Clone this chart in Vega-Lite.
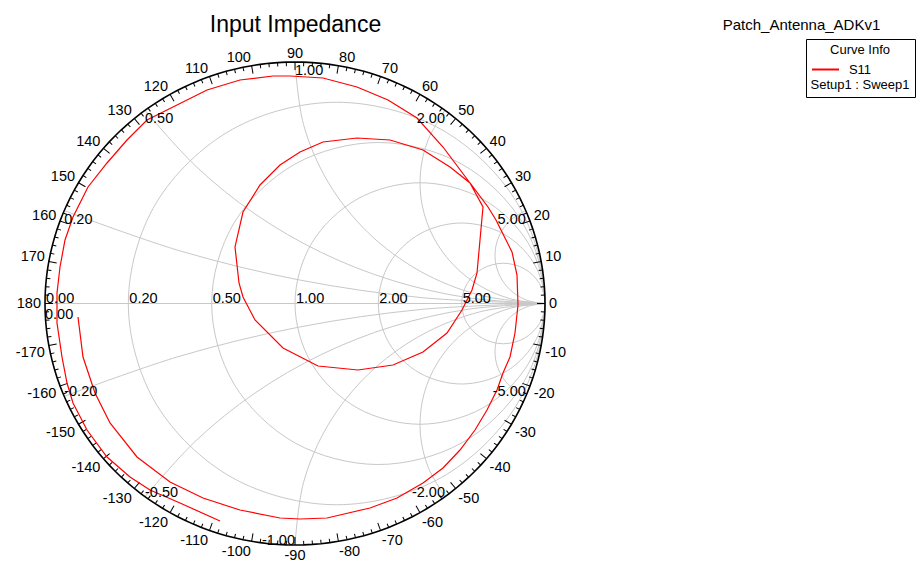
{
"$schema":"https://vega.github.io/schema/vega-lite/v6.json",
"width":919,"height":562,"autosize":{"type":"none"},"padding":0,"background":"#ffffff",
"config":{"view":{"stroke":null},"font":"Liberation Sans"},
"datasets":{
"ring":[
{"a":0,"u":1,"v":0},{"a":2,"u":0.9994,"v":0.0349},{"a":4,"u":0.9976,"v":0.0698},{"a":6,"u":0.9945,"v":0.1045},{"a":8,"u":0.9903,"v":0.1392},{"a":10,"u":0.9848,"v":0.1736},{"a":12,"u":0.9781,"v":0.2079},{"a":14,"u":0.9703,"v":0.2419},{"a":16,"u":0.9613,"v":0.2756},{"a":18,"u":0.9511,"v":0.309},{"a":20,"u":0.9397,"v":0.342},{"a":22,"u":0.9272,"v":0.3746},{"a":24,"u":0.9135,"v":0.4067},{"a":26,"u":0.8988,"v":0.4384},{"a":28,"u":0.8829,"v":0.4695},{"a":30,"u":0.866,"v":0.5},{"a":32,"u":0.848,"v":0.5299},{"a":34,"u":0.829,"v":0.5592},{"a":36,"u":0.809,"v":0.5878},{"a":38,"u":0.788,"v":0.6157},{"a":40,"u":0.766,"v":0.6428},{"a":42,"u":0.7431,"v":0.6691},{"a":44,"u":0.7193,"v":0.6947},{"a":46,"u":0.6947,"v":0.7193},{"a":48,"u":0.6691,"v":0.7431},{"a":50,"u":0.6428,"v":0.766},{"a":52,"u":0.6157,"v":0.788},{"a":54,"u":0.5878,"v":0.809},{"a":56,"u":0.5592,"v":0.829},{"a":58,"u":0.5299,"v":0.848},{"a":60,"u":0.5,"v":0.866},{"a":62,"u":0.4695,"v":0.8829},{"a":64,"u":0.4384,"v":0.8988},{"a":66,"u":0.4067,"v":0.9135},{"a":68,"u":0.3746,"v":0.9272},{"a":70,"u":0.342,"v":0.9397},{"a":72,"u":0.309,"v":0.9511},{"a":74,"u":0.2756,"v":0.9613},{"a":76,"u":0.2419,"v":0.9703},{"a":78,"u":0.2079,"v":0.9781},{"a":80,"u":0.1736,"v":0.9848},{"a":82,"u":0.1392,"v":0.9903},{"a":84,"u":0.1045,"v":0.9945},{"a":86,"u":0.0698,"v":0.9976},{"a":88,"u":0.0349,"v":0.9994},{"a":90,"u":0,"v":1},
{"a":92,"u":-0.0349,"v":0.9994},{"a":94,"u":-0.0698,"v":0.9976},{"a":96,"u":-0.1045,"v":0.9945},{"a":98,"u":-0.1392,"v":0.9903},{"a":100,"u":-0.1736,"v":0.9848},{"a":102,"u":-0.2079,"v":0.9781},{"a":104,"u":-0.2419,"v":0.9703},{"a":106,"u":-0.2756,"v":0.9613},{"a":108,"u":-0.309,"v":0.9511},{"a":110,"u":-0.342,"v":0.9397},{"a":112,"u":-0.3746,"v":0.9272},{"a":114,"u":-0.4067,"v":0.9135},{"a":116,"u":-0.4384,"v":0.8988},{"a":118,"u":-0.4695,"v":0.8829},{"a":120,"u":-0.5,"v":0.866},{"a":122,"u":-0.5299,"v":0.848},{"a":124,"u":-0.5592,"v":0.829},{"a":126,"u":-0.5878,"v":0.809},{"a":128,"u":-0.6157,"v":0.788},{"a":130,"u":-0.6428,"v":0.766},{"a":132,"u":-0.6691,"v":0.7431},{"a":134,"u":-0.6947,"v":0.7193},{"a":136,"u":-0.7193,"v":0.6947},{"a":138,"u":-0.7431,"v":0.6691},{"a":140,"u":-0.766,"v":0.6428},{"a":142,"u":-0.788,"v":0.6157},{"a":144,"u":-0.809,"v":0.5878},{"a":146,"u":-0.829,"v":0.5592},{"a":148,"u":-0.848,"v":0.5299},{"a":150,"u":-0.866,"v":0.5},{"a":152,"u":-0.8829,"v":0.4695},{"a":154,"u":-0.8988,"v":0.4384},{"a":156,"u":-0.9135,"v":0.4067},{"a":158,"u":-0.9272,"v":0.3746},{"a":160,"u":-0.9397,"v":0.342},{"a":162,"u":-0.9511,"v":0.309},{"a":164,"u":-0.9613,"v":0.2756},{"a":166,"u":-0.9703,"v":0.2419},{"a":168,"u":-0.9781,"v":0.2079},{"a":170,"u":-0.9848,"v":0.1736},{"a":172,"u":-0.9903,"v":0.1392},{"a":174,"u":-0.9945,"v":0.1045},{"a":176,"u":-0.9976,"v":0.0698},{"a":178,"u":-0.9994,"v":0.0349},{"a":180,"u":-1,"v":0},
{"a":-2,"u":0.9994,"v":-0.0349},{"a":-4,"u":0.9976,"v":-0.0698},{"a":-6,"u":0.9945,"v":-0.1045},{"a":-8,"u":0.9903,"v":-0.1392},{"a":-10,"u":0.9848,"v":-0.1736},{"a":-12,"u":0.9781,"v":-0.2079},{"a":-14,"u":0.9703,"v":-0.2419},{"a":-16,"u":0.9613,"v":-0.2756},{"a":-18,"u":0.9511,"v":-0.309},{"a":-20,"u":0.9397,"v":-0.342},{"a":-22,"u":0.9272,"v":-0.3746},{"a":-24,"u":0.9135,"v":-0.4067},{"a":-26,"u":0.8988,"v":-0.4384},{"a":-28,"u":0.8829,"v":-0.4695},{"a":-30,"u":0.866,"v":-0.5},{"a":-32,"u":0.848,"v":-0.5299},{"a":-34,"u":0.829,"v":-0.5592},{"a":-36,"u":0.809,"v":-0.5878},{"a":-38,"u":0.788,"v":-0.6157},{"a":-40,"u":0.766,"v":-0.6428},{"a":-42,"u":0.7431,"v":-0.6691},{"a":-44,"u":0.7193,"v":-0.6947},{"a":-46,"u":0.6947,"v":-0.7193},{"a":-48,"u":0.6691,"v":-0.7431},{"a":-50,"u":0.6428,"v":-0.766},{"a":-52,"u":0.6157,"v":-0.788},{"a":-54,"u":0.5878,"v":-0.809},{"a":-56,"u":0.5592,"v":-0.829},{"a":-58,"u":0.5299,"v":-0.848},{"a":-60,"u":0.5,"v":-0.866},{"a":-62,"u":0.4695,"v":-0.8829},{"a":-64,"u":0.4384,"v":-0.8988},{"a":-66,"u":0.4067,"v":-0.9135},{"a":-68,"u":0.3746,"v":-0.9272},{"a":-70,"u":0.342,"v":-0.9397},{"a":-72,"u":0.309,"v":-0.9511},{"a":-74,"u":0.2756,"v":-0.9613},{"a":-76,"u":0.2419,"v":-0.9703},{"a":-78,"u":0.2079,"v":-0.9781},{"a":-80,"u":0.1736,"v":-0.9848},{"a":-82,"u":0.1392,"v":-0.9903},{"a":-84,"u":0.1045,"v":-0.9945},{"a":-86,"u":0.0698,"v":-0.9976},{"a":-88,"u":0.0349,"v":-0.9994},{"a":-90,"u":0,"v":-1},
{"a":-92,"u":-0.0349,"v":-0.9994},{"a":-94,"u":-0.0698,"v":-0.9976},{"a":-96,"u":-0.1045,"v":-0.9945},{"a":-98,"u":-0.1392,"v":-0.9903},{"a":-100,"u":-0.1736,"v":-0.9848},{"a":-102,"u":-0.2079,"v":-0.9781},{"a":-104,"u":-0.2419,"v":-0.9703},{"a":-106,"u":-0.2756,"v":-0.9613},{"a":-108,"u":-0.309,"v":-0.9511},{"a":-110,"u":-0.342,"v":-0.9397},{"a":-112,"u":-0.3746,"v":-0.9272},{"a":-114,"u":-0.4067,"v":-0.9135},{"a":-116,"u":-0.4384,"v":-0.8988},{"a":-118,"u":-0.4695,"v":-0.8829},{"a":-120,"u":-0.5,"v":-0.866},{"a":-122,"u":-0.5299,"v":-0.848},{"a":-124,"u":-0.5592,"v":-0.829},{"a":-126,"u":-0.5878,"v":-0.809},{"a":-128,"u":-0.6157,"v":-0.788},{"a":-130,"u":-0.6428,"v":-0.766},{"a":-132,"u":-0.6691,"v":-0.7431},{"a":-134,"u":-0.6947,"v":-0.7193},{"a":-136,"u":-0.7193,"v":-0.6947},{"a":-138,"u":-0.7431,"v":-0.6691},{"a":-140,"u":-0.766,"v":-0.6428},{"a":-142,"u":-0.788,"v":-0.6157},{"a":-144,"u":-0.809,"v":-0.5878},{"a":-146,"u":-0.829,"v":-0.5592},{"a":-148,"u":-0.848,"v":-0.5299},{"a":-150,"u":-0.866,"v":-0.5},{"a":-152,"u":-0.8829,"v":-0.4695},{"a":-154,"u":-0.8988,"v":-0.4384},{"a":-156,"u":-0.9135,"v":-0.4067},{"a":-158,"u":-0.9272,"v":-0.3746},{"a":-160,"u":-0.9397,"v":-0.342},{"a":-162,"u":-0.9511,"v":-0.309},{"a":-164,"u":-0.9613,"v":-0.2756},{"a":-166,"u":-0.9703,"v":-0.2419},{"a":-168,"u":-0.9781,"v":-0.2079},{"a":-170,"u":-0.9848,"v":-0.1736},{"a":-172,"u":-0.9903,"v":-0.1392},{"a":-174,"u":-0.9945,"v":-0.1045},{"a":-176,"u":-0.9976,"v":-0.0698},{"a":-178,"u":-0.9994,"v":-0.0349}
],
"circ":[
{"g":"r0.2","i":0,"u":1,"v":0},{"g":"r0.2","i":1,"u":0.88836,"v":0.41667},{"g":"r0.2","i":2,"u":0.58333,"v":0.72169},{"g":"r0.2","i":3,"u":0.16667,"v":0.83333},{"g":"r0.2","i":4,"u":-0.25,"v":0.72169},{"g":"r0.2","i":5,"u":-0.55502,"v":0.41667},{"g":"r0.2","i":6,"u":-0.66667,"v":0},{"g":"r0.2","i":7,"u":-0.55502,"v":-0.41667},{"g":"r0.2","i":8,"u":-0.25,"v":-0.72169},{"g":"r0.2","i":9,"u":0.16667,"v":-0.83333},{"g":"r0.2","i":10,"u":0.58333,"v":-0.72169},{"g":"r0.2","i":11,"u":0.88836,"v":-0.41667},
{"g":"r0.5","i":0,"u":1,"v":0},{"g":"r0.5","i":1,"u":0.91068,"v":0.33333},{"g":"r0.5","i":2,"u":0.66667,"v":0.57735},{"g":"r0.5","i":3,"u":0.33333,"v":0.66667},{"g":"r0.5","i":4,"u":0,"v":0.57735},{"g":"r0.5","i":5,"u":-0.24402,"v":0.33333},{"g":"r0.5","i":6,"u":-0.33333,"v":0},{"g":"r0.5","i":7,"u":-0.24402,"v":-0.33333},{"g":"r0.5","i":8,"u":0,"v":-0.57735},{"g":"r0.5","i":9,"u":0.33333,"v":-0.66667},{"g":"r0.5","i":10,"u":0.66667,"v":-0.57735},{"g":"r0.5","i":11,"u":0.91068,"v":-0.33333},
{"g":"r1","i":0,"u":1,"v":0},{"g":"r1","i":1,"u":0.93301,"v":0.25},{"g":"r1","i":2,"u":0.75,"v":0.43301},{"g":"r1","i":3,"u":0.5,"v":0.5},{"g":"r1","i":4,"u":0.25,"v":0.43301},{"g":"r1","i":5,"u":0.06699,"v":0.25},{"g":"r1","i":6,"u":0,"v":0},{"g":"r1","i":7,"u":0.06699,"v":-0.25},{"g":"r1","i":8,"u":0.25,"v":-0.43301},{"g":"r1","i":9,"u":0.5,"v":-0.5},{"g":"r1","i":10,"u":0.75,"v":-0.43301},{"g":"r1","i":11,"u":0.93301,"v":-0.25},
{"g":"r2","i":0,"u":1,"v":0},{"g":"r2","i":1,"u":0.95535,"v":0.16667},{"g":"r2","i":2,"u":0.83333,"v":0.28868},{"g":"r2","i":3,"u":0.66667,"v":0.33333},{"g":"r2","i":4,"u":0.5,"v":0.28868},{"g":"r2","i":5,"u":0.37799,"v":0.16667},{"g":"r2","i":6,"u":0.33333,"v":0},{"g":"r2","i":7,"u":0.37799,"v":-0.16667},{"g":"r2","i":8,"u":0.5,"v":-0.28868},{"g":"r2","i":9,"u":0.66667,"v":-0.33333},{"g":"r2","i":10,"u":0.83333,"v":-0.28868},{"g":"r2","i":11,"u":0.95535,"v":-0.16667},
{"g":"r5","i":0,"u":1,"v":0},{"g":"r5","i":1,"u":0.97767,"v":0.08333},{"g":"r5","i":2,"u":0.91667,"v":0.14434},{"g":"r5","i":3,"u":0.83333,"v":0.16667},{"g":"r5","i":4,"u":0.75,"v":0.14434},{"g":"r5","i":5,"u":0.68899,"v":0.08333},{"g":"r5","i":6,"u":0.66667,"v":0},{"g":"r5","i":7,"u":0.68899,"v":-0.08333},{"g":"r5","i":8,"u":0.75,"v":-0.14434},{"g":"r5","i":9,"u":0.83333,"v":-0.16667},{"g":"r5","i":10,"u":0.91667,"v":-0.14434},{"g":"r5","i":11,"u":0.97767,"v":-0.08333}
],
"arcs":[
{"g":"x0","i":0,"u":-1,"v":0},{"g":"x0","i":1,"u":1,"v":0},
{"g":"xp0.2","i":0,"u":1,"v":0},{"g":"xp0.2","i":1,"u":0.50731,"v":0.02433},{"g":"xp0.2","i":2,"u":0.0194,"v":0.0971},{"g":"xp0.2","i":3,"u":-0.45895,"v":0.2176},{"g":"xp0.2","i":4,"u":-0.92308,"v":0.38462},
{"g":"xn0.2","i":0,"u":1,"v":0},{"g":"xn0.2","i":1,"u":0.50731,"v":-0.02433},{"g":"xn0.2","i":2,"u":0.0194,"v":-0.0971},{"g":"xn0.2","i":3,"u":-0.45895,"v":-0.2176},{"g":"xn0.2","i":4,"u":-0.92308,"v":-0.38462},
{"g":"xp0.5","i":0,"u":1,"v":0},{"g":"xp0.5","i":1,"u":0.69214,"v":0.02384},{"g":"xp0.5","i":2,"u":0.39162,"v":0.09478},{"g":"xp0.5","i":3,"u":0.10557,"v":0.21115},{"g":"xp0.5","i":4,"u":-0.1591,"v":0.37012},{"g":"xp0.5","i":5,"u":-0.39618,"v":0.56796},{"g":"xp0.5","i":6,"u":-0.6,"v":0.8},
{"g":"xn0.5","i":0,"u":1,"v":0},{"g":"xn0.5","i":1,"u":0.69214,"v":-0.02384},{"g":"xn0.5","i":2,"u":0.39162,"v":-0.09478},{"g":"xn0.5","i":3,"u":0.10557,"v":-0.21115},{"g":"xn0.5","i":4,"u":-0.1591,"v":-0.37012},{"g":"xn0.5","i":5,"u":-0.39618,"v":-0.56796},{"g":"xn0.5","i":6,"u":-0.6,"v":-0.8},
{"g":"xp1","i":0,"u":1,"v":0},{"g":"xp1","i":1,"u":0.74118,"v":0.03407},{"g":"xp1","i":2,"u":0.5,"v":0.13397},{"g":"xp1","i":3,"u":0.29289,"v":0.29289},{"g":"xp1","i":4,"u":0.13397,"v":0.5},{"g":"xp1","i":5,"u":0.03407,"v":0.74118},{"g":"xp1","i":6,"u":0,"v":1},
{"g":"xn1","i":0,"u":1,"v":0},{"g":"xn1","i":1,"u":0.74118,"v":-0.03407},{"g":"xn1","i":2,"u":0.5,"v":-0.13397},{"g":"xn1","i":3,"u":0.29289,"v":-0.29289},{"g":"xn1","i":4,"u":0.13397,"v":-0.5},{"g":"xn1","i":5,"u":0.03407,"v":-0.74118},{"g":"xn1","i":6,"u":0,"v":-1},
{"g":"xp2","i":0,"u":1,"v":0},{"g":"xp2","i":1,"u":0.86337,"v":0.01903},{"g":"xp2","i":2,"u":0.73713,"v":0.07468},{"g":"xp2","i":3,"u":0.6309,"v":0.1627},{"g":"xp2","i":4,"u":0.55279,"v":0.27639},{"g":"xp2","i":5,"u":0.5087,"v":0.40712},{"g":"xp2","i":6,"u":0.50201,"v":0.54494},{"g":"xp2","i":7,"u":0.53325,"v":0.67931},{"g":"xp2","i":8,"u":0.6,"v":0.8},
{"g":"xn2","i":0,"u":1,"v":0},{"g":"xn2","i":1,"u":0.86337,"v":-0.01903},{"g":"xn2","i":2,"u":0.73713,"v":-0.07468},{"g":"xn2","i":3,"u":0.6309,"v":-0.1627},{"g":"xn2","i":4,"u":0.55279,"v":-0.27639},{"g":"xn2","i":5,"u":0.5087,"v":-0.40712},{"g":"xn2","i":6,"u":0.50201,"v":-0.54494},{"g":"xn2","i":7,"u":0.53325,"v":-0.67931},{"g":"xn2","i":8,"u":0.6,"v":-0.8},
{"g":"xp5","i":0,"u":1,"v":0},{"g":"xp5","i":1,"u":0.93267,"v":0.01167},{"g":"xp5","i":2,"u":0.8732,"v":0.04533},{"g":"xp5","i":3,"u":0.82853,"v":0.09704},{"g":"xp5","i":4,"u":0.80388,"v":0.16078},{"g":"xp5","i":5,"u":0.80213,"v":0.22909},{"g":"xp5","i":6,"u":0.82346,"v":0.29401},{"g":"xp5","i":7,"u":0.86541,"v":0.34795},{"g":"xp5","i":8,"u":0.92308,"v":0.38462},
{"g":"xn5","i":0,"u":1,"v":0},{"g":"xn5","i":1,"u":0.93267,"v":-0.01167},{"g":"xn5","i":2,"u":0.8732,"v":-0.04533},{"g":"xn5","i":3,"u":0.82853,"v":-0.09704},{"g":"xn5","i":4,"u":0.80388,"v":-0.16078},{"g":"xn5","i":5,"u":0.80213,"v":-0.22909},{"g":"xn5","i":6,"u":0.82346,"v":-0.29401},{"g":"xn5","i":7,"u":0.86541,"v":-0.34795},{"g":"xn5","i":8,"u":0.92308,"v":-0.38462}
],
"s11":[
{"trace":"S11","i":1,"u":-0.868,"v":-0.0559},{"trace":"S11","i":2,"u":-0.848,"v":-0.2215},{"trace":"S11","i":3,"u":-0.8,"v":-0.3706},{"trace":"S11","i":4,"u":-0.74,"v":-0.4948},{"trace":"S11","i":5,"u":-0.632,"v":-0.6356},{"trace":"S11","i":6,"u":-0.5,"v":-0.7391},{"trace":"S11","i":7,"u":-0.368,"v":-0.8054},{"trace":"S11","i":8,"u":-0.22,"v":-0.8551},{"trace":"S11","i":9,"u":-0.06,"v":-0.8882},{"trace":"S11","i":10,"u":0.02,"v":-0.8923},
{"trace":"S11","i":11,"u":0.128,"v":-0.8882},{"trace":"S11","i":12,"u":0.3,"v":-0.8468},{"trace":"S11","i":13,"u":0.408,"v":-0.8054},{"trace":"S11","i":14,"u":0.512,"v":-0.7433},{"trace":"S11","i":15,"u":0.592,"v":-0.6812},{"trace":"S11","i":16,"u":0.66,"v":-0.6066},{"trace":"S11","i":17,"u":0.72,"v":-0.5238},{"trace":"S11","i":18,"u":0.768,"v":-0.441},{"trace":"S11","i":19,"u":0.808,"v":-0.3582},{"trace":"S11","i":20,"u":0.832,"v":-0.2878},
{"trace":"S11","i":21,"u":0.86,"v":-0.2215},{"trace":"S11","i":22,"u":0.88,"v":-0.1222},{"trace":"S11","i":23,"u":0.892,"v":-0.0062},{"trace":"S11","i":24,"u":0.888,"v":0.118},{"trace":"S11","i":25,"u":0.868,"v":0.2133},{"trace":"S11","i":26,"u":0.84,"v":0.2712},{"trace":"S11","i":27,"u":0.804,"v":0.3458},{"trace":"S11","i":28,"u":0.772,"v":0.3996},{"trace":"S11","i":29,"u":0.7,"v":0.499},{"trace":"S11","i":30,"u":0.62,"v":0.5652},
{"trace":"S11","i":31,"u":0.512,"v":0.6356},{"trace":"S11","i":32,"u":0.38,"v":0.677},{"trace":"S11","i":33,"u":0.248,"v":0.6853},{"trace":"S11","i":34,"u":0.112,"v":0.6687},{"trace":"S11","i":35,"u":0.02,"v":0.6273},{"trace":"S11","i":36,"u":-0.06,"v":0.5735},{"trace":"S11","i":37,"u":-0.14,"v":0.4907},{"trace":"S11","i":38,"u":-0.208,"v":0.3789},{"trace":"S11","i":39,"u":-0.24,"v":0.234},{"trace":"S11","i":40,"u":-0.224,"v":0.0849},
{"trace":"S11","i":41,"u":-0.208,"v":0.0269},{"trace":"S11","i":42,"u":-0.16,"v":-0.0683},{"trace":"S11","i":43,"u":-0.048,"v":-0.1843},{"trace":"S11","i":44,"u":0.092,"v":-0.2588},{"trace":"S11","i":45,"u":0.252,"v":-0.2754},{"trace":"S11","i":46,"u":0.392,"v":-0.2547},{"trace":"S11","i":47,"u":0.512,"v":-0.2008},{"trace":"S11","i":48,"u":0.608,"v":-0.1222},{"trace":"S11","i":49,"u":0.668,"v":-0.0269},{"trace":"S11","i":50,"u":0.708,"v":0.0559},
{"trace":"S11","i":51,"u":0.728,"v":0.1263},{"trace":"S11","i":52,"u":0.74,"v":0.2629},{"trace":"S11","i":53,"u":0.752,"v":0.3996},{"trace":"S11","i":54,"u":0.7,"v":0.499},{"trace":"S11","i":55,"u":0.592,"v":0.648},{"trace":"S11","i":56,"u":0.488,"v":0.7681},{"trace":"S11","i":57,"u":0.372,"v":0.8427},{"trace":"S11","i":58,"u":0.248,"v":0.8965},{"trace":"S11","i":59,"u":0.112,"v":0.9337},{"trace":"S11","i":60,"u":-0.02,"v":0.942},
{"trace":"S11","i":61,"u":-0.088,"v":0.942},{"trace":"S11","i":62,"u":-0.22,"v":0.9255},{"trace":"S11","i":63,"u":-0.352,"v":0.8841},{"trace":"S11","i":64,"u":-0.488,"v":0.8137},{"trace":"S11","i":65,"u":-0.592,"v":0.7598},{"trace":"S11","i":66,"u":-0.672,"v":0.677},{"trace":"S11","i":67,"u":-0.752,"v":0.5818},{"trace":"S11","i":68,"u":-0.828,"v":0.4824},{"trace":"S11","i":69,"u":-0.888,"v":0.3582},{"trace":"S11","i":70,"u":-0.92,"v":0.2629},
{"trace":"S11","i":71,"u":-0.94,"v":0.1511},{"trace":"S11","i":72,"u":-0.952,"v":0.0435},{"trace":"S11","i":73,"u":-0.952,"v":-0.0807},{"trace":"S11","i":74,"u":-0.932,"v":-0.2215},{"trace":"S11","i":75,"u":-0.912,"v":-0.3292},{"trace":"S11","i":76,"u":-0.888,"v":-0.412},{"trace":"S11","i":77,"u":-0.832,"v":-0.5238},{"trace":"S11","i":78,"u":-0.752,"v":-0.6356},{"trace":"S11","i":79,"u":-0.66,"v":-0.7184},{"trace":"S11","i":80,"u":-0.58,"v":-0.7723},
{"trace":"S11","i":81,"u":-0.46,"v":-0.8261},{"trace":"S11","i":82,"u":-0.3,"v":-0.9006}
],
"rlab":[
{"t":"0.00","u":-1,"v":0},{"t":"0.20","u":-0.66667,"v":0},{"t":"0.50","u":-0.33333,"v":0},{"t":"1.00","u":0,"v":0},{"t":"2.00","u":0.33333,"v":0},{"t":"5.00","u":0.66667,"v":0}
],
"xlab":[
{"t":"0.00","u":-1,"v":0},{"t":"0.20","u":-0.92308,"v":0.38462},{"t":"0.50","u":-0.6,"v":0.8},{"t":"1.00","u":0,"v":1},{"t":"2.00","u":0.6,"v":0.8},{"t":"5.00","u":0.92308,"v":0.38462},
{"t":"-0.20","u":-0.92308,"v":-0.38462},{"t":"-0.50","u":-0.6,"v":-0.8},{"t":"-1.00","u":0,"v":-1},{"t":"-2.00","u":0.6,"v":-0.8},{"t":"-5.00","u":0.92308,"v":-0.38462}
]
},
"encoding":{
"x":{"field":"u","type":"quantitative","scale":{"domain":[-1.18,2.496],"nice":false,"zero":false},
"axis":{"orient":"top","domain":false,"ticks":false,"labels":false,"grid":false,"title":"Patch_Antenna_ADKv1","titleX":801,"titleY":24,"titleAlign":"center","titleBaseline":"middle","titleAngle":0,"titleFont":"Liberation Sans","titleFontSize":15,"titleFontWeight":"normal","titleColor":"#000000"}},
"y":{"field":"v","type":"quantitative","scale":{"domain":[-1.07039,1.25673],"nice":false,"zero":false},
"axis":{"orient":"left","domain":false,"ticks":false,"labels":false,"grid":false,"title":"Input Impedance","titleX":295,"titleY":24,"titleAlign":"center","titleBaseline":"middle","titleAngle":0,"titleFont":"Liberation Sans","titleFontSize":23,"titleFontWeight":"normal","titleColor":"#000000"}}
},
"layer":[
{"data":{"name":"circ"},"mark":{"type":"line","interpolate":"cardinal-closed","color":"#c8c8c8","strokeWidth":1},
"encoding":{"detail":{"field":"g","type":"nominal"},"order":{"field":"i","type":"quantitative"}}},
{"data":{"name":"arcs"},"mark":{"type":"line","interpolate":"cardinal","color":"#c8c8c8","strokeWidth":1},
"encoding":{"detail":{"field":"g","type":"nominal"},"order":{"field":"i","type":"quantitative"}}},
{"data":{"name":"ring"},"mark":{"type":"line","interpolate":"linear-closed","color":"#000000","strokeWidth":1.6},
"encoding":{"order":{"field":"a","type":"quantitative"}}},
{"data":{"name":"ring"},"transform":[{"filter":"datum.a % 10 == 0"}],
"mark":{"type":"point","shape":"M0,0L0,1","filled":false,"color":"#000000","stroke":"#000000","strokeWidth":1,"opacity":1,"size":256},
"encoding":{"angle":{"field":"a","type":"quantitative","scale":{"domain":[-180,180],"range":[270,-90]}}}},
{"data":{"name":"ring"},"transform":[{"filter":"datum.a % 10 != 0"}],
"mark":{"type":"point","shape":"M0,0L0,1","filled":false,"color":"#000000","stroke":"#000000","strokeWidth":1,"opacity":1,"size":64},
"encoding":{"angle":{"field":"a","type":"quantitative","scale":{"domain":[-180,180],"range":[270,-90]}}}},
{"data":{"name":"s11"},"mark":{"type":"line","strokeWidth":1.2},
"encoding":{"order":{"field":"i","type":"quantitative"},
"color":{"field":"trace","type":"nominal","scale":{"domain":["S11"],"range":["#ff0000"]},
"legend":{"title":"Curve Info","orient":"none","legendX":806,"legendY":39,"strokeColor":"#000000","fillColor":"#ffffff","padding":5,"titleFont":"Liberation Sans","titleFontSize":13,"titleFontWeight":"normal","titleColor":"#000000","titleAnchor":"middle","titleAlign":"center","titlePadding":-2,"labelFont":"Liberation Sans","labelFontSize":13,"labelColor":"#000000","labelAlign":"center","labelOffset":20,"labelExpr":"['S11', 'Setup1 : Sweep1']","symbolType":"stroke","symbolStrokeWidth":2,"symbolSize":729}}}},
{"data":{"name":"ring"},"transform":[{"filter":"datum.a % 10 == 0 && datum.a > 0 && datum.a < 90"}],
"mark":{"type":"text","align":"left","baseline":"alphabetic","radius":4,"fontSize":14.5,"color":"#000000"},
"encoding":{"text":{"field":"a","type":"nominal"},"theta":{"field":"a","type":"quantitative","scale":{"domain":[-180,180],"range":[4.712389,-1.570796]}}}},
{"data":{"name":"ring"},"transform":[{"filter":"datum.a % 10 == 0 && datum.a > 90 && datum.a < 180"}],
"mark":{"type":"text","align":"right","baseline":"alphabetic","radius":4,"fontSize":14.5,"color":"#000000"},
"encoding":{"text":{"field":"a","type":"nominal"},"theta":{"field":"a","type":"quantitative","scale":{"domain":[-180,180],"range":[4.712389,-1.570796]}}}},
{"data":{"name":"ring"},"transform":[{"filter":"datum.a == 90"}],
"mark":{"type":"text","align":"center","baseline":"alphabetic","radius":4,"fontSize":14.5,"color":"#000000"},
"encoding":{"text":{"field":"a","type":"nominal"},"theta":{"field":"a","type":"quantitative","scale":{"domain":[-180,180],"range":[4.712389,-1.570796]}}}},
{"data":{"name":"ring"},"transform":[{"filter":"datum.a == 0"}],
"mark":{"type":"text","align":"left","baseline":"middle","radius":4,"fontSize":14.5,"color":"#000000"},
"encoding":{"text":{"field":"a","type":"nominal"},"theta":{"field":"a","type":"quantitative","scale":{"domain":[-180,180],"range":[4.712389,-1.570796]}}}},
{"data":{"name":"ring"},"transform":[{"filter":"datum.a == 180"}],
"mark":{"type":"text","align":"right","baseline":"middle","radius":4,"fontSize":14.5,"color":"#000000"},
"encoding":{"text":{"field":"a","type":"nominal"},"theta":{"field":"a","type":"quantitative","scale":{"domain":[-180,180],"range":[4.712389,-1.570796]}}}},
{"data":{"name":"ring"},"transform":[{"filter":"datum.a % 10 == 0 && datum.a < 0 && datum.a > -90"}],
"mark":{"type":"text","align":"left","baseline":"top","radius":4,"fontSize":14.5,"color":"#000000"},
"encoding":{"text":{"field":"a","type":"nominal"},"theta":{"field":"a","type":"quantitative","scale":{"domain":[-180,180],"range":[4.712389,-1.570796]}}}},
{"data":{"name":"ring"},"transform":[{"filter":"datum.a % 10 == 0 && datum.a < -90"}],
"mark":{"type":"text","align":"right","baseline":"top","radius":4,"fontSize":14.5,"color":"#000000"},
"encoding":{"text":{"field":"a","type":"nominal"},"theta":{"field":"a","type":"quantitative","scale":{"domain":[-180,180],"range":[4.712389,-1.570796]}}}},
{"data":{"name":"ring"},"transform":[{"filter":"datum.a == -90"}],
"mark":{"type":"text","align":"center","baseline":"top","radius":4,"fontSize":14.5,"color":"#000000"},
"encoding":{"text":{"field":"a","type":"nominal"},"theta":{"field":"a","type":"quantitative","scale":{"domain":[-180,180],"range":[4.712389,-1.570796]}}}},
{"data":{"name":"rlab"},"mark":{"type":"text","align":"left","baseline":"alphabetic","dx":1,"dy":-0.5,"fontSize":14.5,"color":"#000000"},
"encoding":{"text":{"field":"t","type":"nominal"}}},
{"data":{"name":"xlab"},"transform":[{"filter":"datum.v > 0 && datum.u <= 0"}],"mark":{"type":"text","align":"left","baseline":"alphabetic","dy":13,"fontSize":14.5,"color":"#000000"},
"encoding":{"text":{"field":"t","type":"nominal"}}},
{"data":{"name":"xlab"},"transform":[{"filter":"datum.v == 0"}],"mark":{"type":"text","align":"left","baseline":"alphabetic","dy":15.5,"fontSize":14.5,"color":"#000000"},
"encoding":{"text":{"field":"t","type":"nominal"}}},
{"data":{"name":"xlab"},"transform":[{"filter":"datum.v > 0 && datum.u > 0"}],"mark":{"type":"text","align":"right","baseline":"alphabetic","dy":13,"fontSize":14.5,"color":"#000000"},
"encoding":{"text":{"field":"t","type":"nominal"}}},
{"data":{"name":"xlab"},"transform":[{"filter":"datum.v < 0 && datum.u < 0"}],"mark":{"type":"text","align":"left","baseline":"alphabetic","dy":0,"fontSize":14.5,"color":"#000000"},
"encoding":{"text":{"field":"t","type":"nominal"}}},
{"data":{"name":"xlab"},"transform":[{"filter":"datum.v < 0 && datum.u >= 0"}],"mark":{"type":"text","align":"right","baseline":"alphabetic","dy":0,"fontSize":14.5,"color":"#000000"},
"encoding":{"text":{"field":"t","type":"nominal"}}}
]
}
